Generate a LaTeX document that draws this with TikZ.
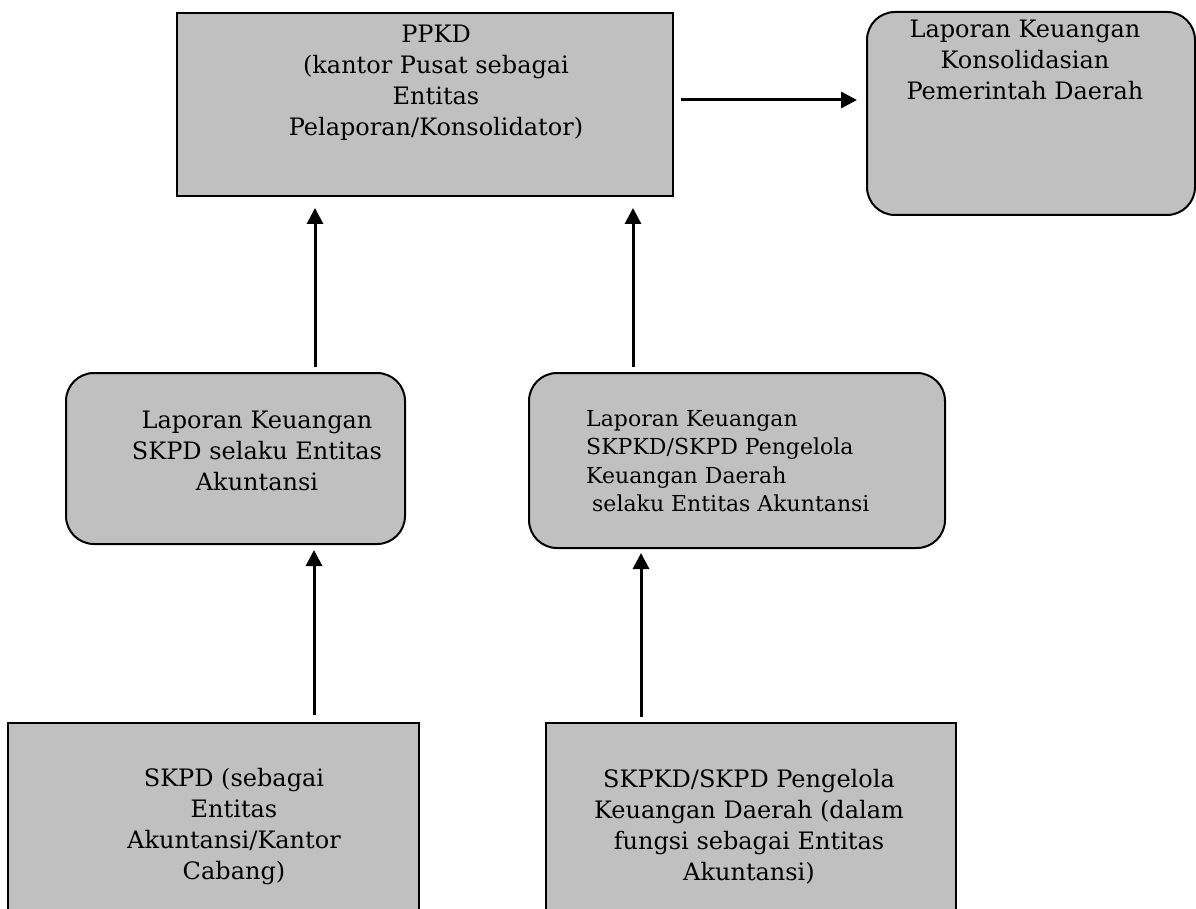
\documentclass[tikz,border=0pt]{standalone}
\usepackage{fontspec}
\setmainfont{DejaVu Serif}
\usetikzlibrary{arrows.meta}
\definecolor{boxgray}{HTML}{C0C0C0}
\begin{document}
\begin{tikzpicture}[x=1pt,y=-1pt,
  box/.style={draw=black, line width=2pt, fill=boxgray, inner sep=0pt},
  rbox/.style={box, rounded corners=28pt},
  txt/.style={inner sep=0pt, align=center, font=\fontsize{24}{31}\selectfont},
  stxt/.style={inner sep=0pt, align=left, font=\fontsize{22}{28.5}\selectfont},
  arr/.style={line width=3pt, -{Triangle[length=16pt,width=16pt]}}]
\useasboundingbox (0,0) rectangle (1196,909);

\node[box, minimum width=496pt, minimum height=183pt] (ppkd) at (425,104.5) {};
\node[rbox, minimum width=328pt, minimum height=203pt] (konsol) at (1031,113.5) {};
\node[rbox, minimum width=339pt, minimum height=171pt] (lmid) at (235.5,458.5) {};
\node[rbox, minimum width=416pt, minimum height=175pt] (rmid) at (737,460.5) {};
\node[box, minimum width=411pt, minimum height=217pt] (bl) at (213.5,831.5) {};
\node[box, minimum width=410pt, minimum height=217pt] (br) at (751,831.5) {};

\node[txt, anchor=north] (ppkdtxt) at (436,20.3) {\strut PPKD\\(kantor Pusat sebagai\\Entitas\\Pelaporan/Konsolidator)};
\node[txt, anchor=north] (konsoltxt) at (1025,15.3) {\strut Laporan Keuangan\\Konsolidasian\\Pemerintah Daerah};
\node[txt, anchor=north] (lmidtxt) at (257,406.3) {\strut Laporan Keuangan\\SKPD selaku Entitas\\Akuntansi};
\node[stxt, anchor=north west] (rmidtxt) at (586,406.0) {\strut Laporan Keuangan\\SKPKD/SKPD Pengelola\\Keuangan Daerah\\\hspace*{6pt}selaku Entitas Akuntansi};
\node[txt, anchor=north] (bltxt) at (234,764.3) {\strut SKPD (sebagai\\Entitas\\Akuntansi/Kantor\\Cabang)};
\node[txt, anchor=north] (brtxt) at (749,765.3) {\strut SKPKD/SKPD Pengelola\\Keuangan Daerah (dalam\\fungsi sebagai Entitas\\Akuntansi)};

\draw[arr] ([xshift=7pt,yshift=4.5pt]ppkd.east) -- ([xshift=-9pt,yshift=13.5pt]konsol.west);
\draw[arr] ([xshift=79.5pt,yshift=5pt]lmid.north) -- ([xshift=-110pt,yshift=-11pt]ppkd.south);
\draw[arr] ([xshift=-104pt,yshift=5pt]rmid.north) -- ([xshift=208pt,yshift=-11pt]ppkd.south);
\draw[arr] ([xshift=100.5pt,yshift=7pt]bl.north) -- ([xshift=78.5pt,yshift=-5pt]lmid.south);
\draw[arr] ([xshift=-110pt,yshift=5pt]br.north) -- ([xshift=-96pt,yshift=-4pt]rmid.south);
\end{tikzpicture}
\end{document}
